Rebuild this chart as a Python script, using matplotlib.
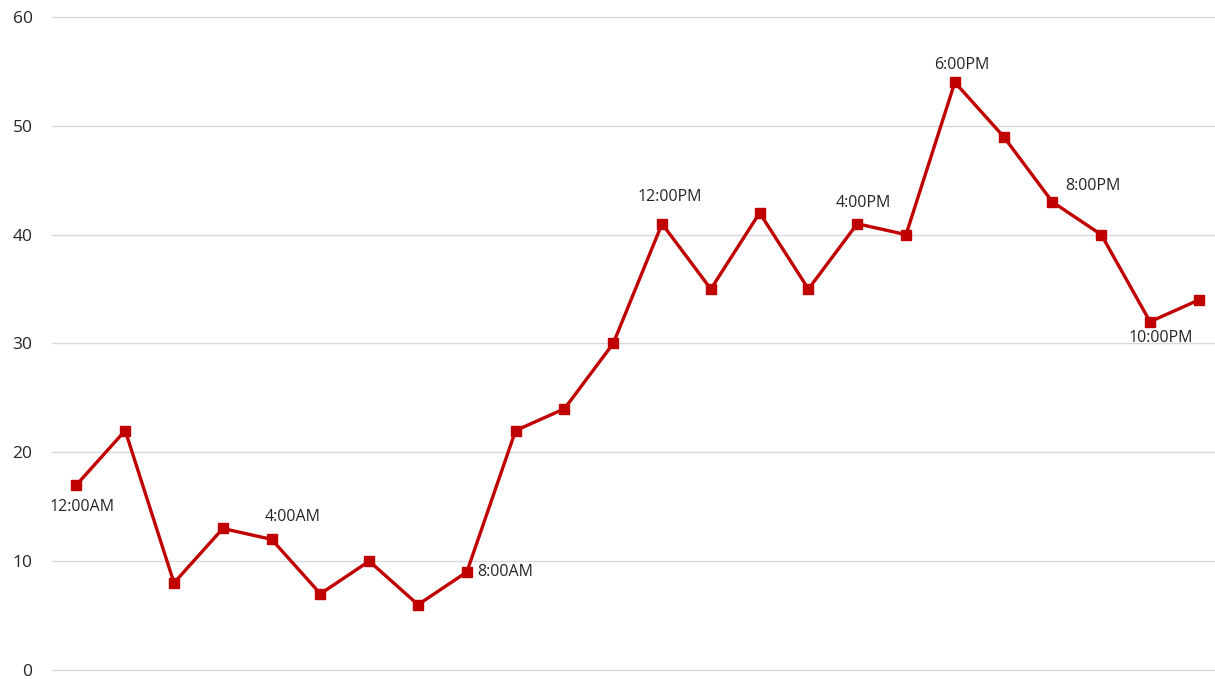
import matplotlib

matplotlib.use("Agg")
import matplotlib.pyplot as plt

hours = list(range(24))
values = [17, 22, 8, 13, 12, 7, 10, 6, 9, 22, 24, 30,
          41, 35, 42, 35, 41, 40, 54, 49, 43, 40, 32, 34]
# labelled points: index -> text
label_idx = [0, 4, 8, 12, 16, 18, 20, 22]
label_txt = ["12:00AM", "4:00AM", "8:00AM", "12:00PM",
             "4:00PM", "6:00PM", "8:00PM", "10:00PM"]
# pixel offsets of each label from its point (dx, dy, ha, va)
label_pos = [(6, -14, "center", "top"), (21, 14, "center", "bottom"),
             (10, 0, "left", "center"), (8, 19, "center", "bottom"),
             (6, 13, "center", "bottom"), (7, 9, "center", "bottom"),
             (13, 8, "left", "bottom"), (11, -8, "center", "top")]

plt.rcParams["font.family"] = ["Open Sans", "DejaVu Sans"]

fig = plt.figure(figsize=(12.15, 6.79), dpi=100)
ax = fig.add_axes([0.0428, 0.0133, 0.964, 0.9617])

ax.plot(hours, values, color="#C00000", lw=2.4, marker="s", ms=6.5,
        markeredgecolor="#C00000", zorder=3)

for i, t, (dx, dy, ha, va) in zip(label_idx, label_txt, label_pos):
    ax.annotate(t, (hours[i], values[i]), xytext=(dx, dy), textcoords="offset pixels",
                ha=ha, va=va, fontsize=11.5, color="#262626")

ax.set_xlim(-0.5, 23.5)
ax.set_ylim(0, 60)
ax.set_yticks(range(0, 61, 10))
ax.set_xticks([])
ax.grid(axis="y", color="#d9d9d9", lw=1)
for gl in ax.get_ygridlines():
    gl.set_clip_on(False)
ax.set_axisbelow(True)
for s in ax.spines.values():
    s.set_visible(False)
ax.tick_params(axis="y", length=0, pad=14, labelsize=12.5, labelcolor="#262626")

fig.savefig("out.png", dpi=100)
